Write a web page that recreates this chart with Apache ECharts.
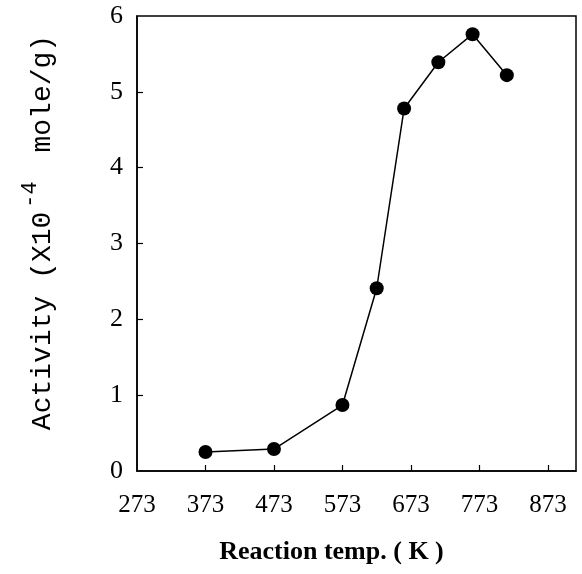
<!DOCTYPE html>
<html>
<head>
<meta charset="utf-8">
<script src="https://cdn.jsdelivr.net/npm/echarts@6/dist/echarts.min.js"></script>
<style>
html,body{margin:0;padding:0;background:#fff;}
#chart{width:582px;height:574px;}
</style>
</head>
<body>
<div id="chart"></div>
<script>
// Data
var temps = [373, 473, 573, 623, 663, 713, 763, 813];
var activity = [0.25, 0.29, 0.87, 2.41, 4.78, 5.39, 5.76, 5.22];
var xTickLabels = [273, 373, 473, 573, 673, 773, 873];
var xTickMarks = [373, 473, 573, 673, 773, 873];
var yTickLabels = [0, 1, 2, 3, 4, 5, 6];
var yTickMarks = [1, 2, 3, 4, 5];

var points = temps.map(function (t, i) { return [t, activity[i]]; });

var chart = echarts.init(document.getElementById('chart'), null, {renderer: 'canvas'});
chart.setOption({
  animation: false,
  backgroundColor: '#fff',
  grid: {
    left: 137, right: 6, top: 16, bottom: 103,
    show: true, borderColor: '#000', borderWidth: 1.5, backgroundColor: 'transparent'
  },
  xAxis: {
    type: 'value',
    min: 273, max: 914,
    axisLine: {show: true, lineStyle: {color: '#000', width: 1.5}},
    axisTick: {show: true, inside: true, length: 6, customValues: xTickMarks, lineStyle: {color: '#000', width: 1.2}},
    axisLabel: {
      customValues: xTickLabels, margin: 22,
      fontFamily: 'Liberation Serif', fontSize: 25, color: '#000'
    },
    splitLine: {show: false},
    name: 'Reaction temp. ( K )',
    nameLocation: 'middle',
    nameGap: 68,
    nameTextStyle: {
      fontFamily: 'Liberation Serif', fontWeight: 'bold', fontSize: 26, color: '#000',
      padding: [0, 50, 0, 0]
    }
  },
  yAxis: {
    type: 'value',
    min: 0, max: 6,
    axisLine: {show: true, lineStyle: {color: '#000', width: 1.5}},
    axisTick: {show: true, inside: true, length: 6, customValues: yTickMarks, lineStyle: {color: '#000', width: 1.2}},
    axisLabel: {
      customValues: yTickLabels, margin: 14,
      fontFamily: 'Liberation Serif', fontSize: 26, color: '#000'
    },
    splitLine: {show: false},
    name: '{a|Activity (X10}{s|-4}{a| mole/g)}',
    nameLocation: 'middle',
    nameGap: 80,
    nameTextStyle: {
      padding: [0, 0, 0, 22],
      rich: {
        a: {fontFamily: 'Liberation Mono', fontSize: 28, color: '#000', verticalAlign: 'bottom', lineHeight: 38},
        s: {fontFamily: 'Liberation Mono', fontSize: 22, color: '#000', verticalAlign: 'top', lineHeight: 38, padding: [0, 12, 0, 4]}
      }
    }
  },
  series: [{
    type: 'line',
    data: points,
    symbol: 'circle',
    symbolSize: 14,
    lineStyle: {color: '#000', width: 1.5},
    itemStyle: {color: '#000'}
  }]
});
</script>
</body>
</html>
